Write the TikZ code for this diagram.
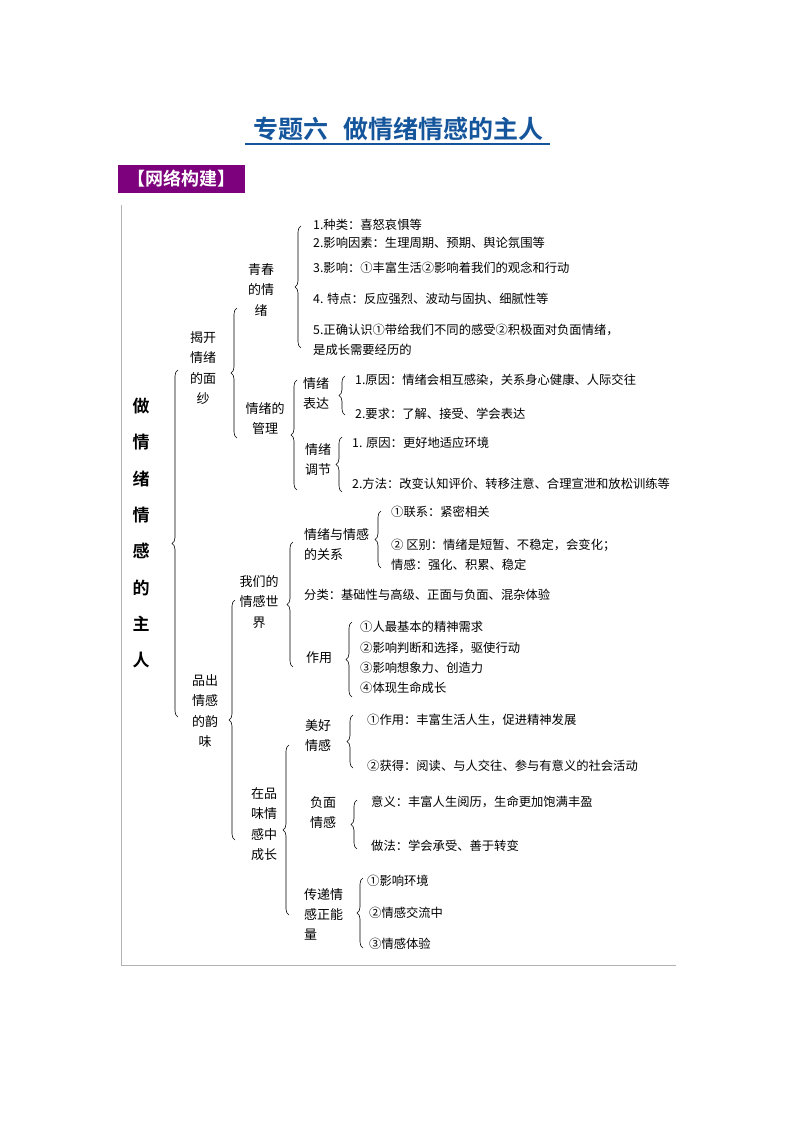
\documentclass[tikz,border=0pt]{standalone}
\usepackage{fontspec}
\setmainfont{Noto Sans CJK SC}
\newfontfamily\cjkb{Noto Sans CJK SC Bold}
\usetikzlibrary{decorations.pathreplacing}
\definecolor{titleblue}{RGB}{20,85,155}
\definecolor{hdrpurple}{RGB}{125,0,125}
\newcommand\brc[3]{\draw[brc] (#1,#3) -- (#1,#2);}
\begin{document}
\begin{tikzpicture}[x=1pt,y=-1pt,
  brc/.style={decorate,decoration={brace,amplitude=6pt},line width=0.6pt},
  item/.style={anchor=west,inner sep=0pt,font=\fontsize{12.3}{20}\selectfont},
  lab/.style={inner sep=0pt,align=center,font=\fontsize{13}{20.5}\selectfont},
  labl/.style={inner sep=0pt,align=left,anchor=north west,font=\fontsize{13}{20}\selectfont}]
\useasboundingbox (0,0) rectangle (794,1123);
% title
\node[text=titleblue,font=\cjkb\fontsize{25}{28}\selectfont,inner sep=0pt] (title) at (398,129) {专题六\hspace{0.6em}做情绪情感的主人};
\draw[titleblue,line width=1.2pt] (245,144) -- (550,144);
\node[fill=hdrpurple,text=white,font=\cjkb\fontsize{18}{20}\selectfont,minimum width=127pt,minimum height=28pt,inner sep=0pt] (hdr) at (181.5,179) {【网络构建】};
% frame
\draw[gray!60,line width=1pt] (121,205) -- (121,965) -- (676,965);
% root
\node[inner sep=0pt,align=center,font=\cjkb\fontsize{17}{36.3}\selectfont,anchor=north] (root) at (141,398) {做\\情\\绪\\情\\感\\的\\主\\人};
\brc{178}{370}{717}
% level 1
\node[lab,anchor=north] (l1a) at (203,331) {揭开\\情绪\\的面\\纱};
\node[lab,anchor=north] (l1b) at (205,674) {品出\\情感\\的韵\\味};
\brc{237}{308}{438}
\brc{235}{600}{840}
% level 2 upper
\node[lab,anchor=north] (qc) at (261,263) {青春\\的情\\绪};
\node[lab,anchor=north] (gl) at (265,402) {情绪的\\管理};
\brc{301}{226}{348}
\node[item] (q1) at (313,225) {1.种类：喜怒哀惧等};
\node[item] (q2) at (313,243) {2.影响因素：生理周期、预期、舆论氛围等};
\node[item] (q3) at (313,268) {3.影响：①丰富生活②影响着我们的观念和行动};
\node[item] (q4) at (313,299) {4. 特点：反应强烈、波动与固执、细腻性等};
\node[item] (q5) at (313,330) {5.正确认识①带给我们不同的感受②积极面对负面情绪，};
\node[item] (q6) at (313,350) {是成长需要经历的};
\brc{297}{380}{490}
\node[lab,anchor=north] (bd) at (316,377) {情绪\\表达};
\brc{345}{376}{415}
\node[item] (b1) at (355,380) {1.原因：情绪会相互感染，关系身心健康、人际交往};
\node[item] (b2) at (355,414) {2.要求：了解、接受、学会表达};
\node[lab,anchor=north] (tj) at (318,443) {情绪\\调节};
\brc{342}{437}{492}
\node[item] (t1) at (352,443) {1. 原因：更好地适应环境};
\node[item] (t2) at (352,484) {2.方法：改变认知评价、转移注意、合理宣泄和放松训练等};
% level 2 lower
\node[lab,anchor=north] (wm) at (259,575) {我们的\\情感世\\界};
\brc{293}{542}{667}
\node[labl] (gx) at (304,528) {情绪与情感\\的关系};
\brc{381}{511}{568}
\node[item] (g1) at (391,512) {①联系：紧密相关};
\node[item] (g2) at (391,545) {② 区别：情绪是短暂、不稳定，会变化；};
\node[item] (g3) at (391,565) {情感：强化、积累、稳定};
\node[item] (fl) at (304,595) {分类：基础性与高级、正面与负面、混杂体验};
\node[item,font=\fontsize{13}{20}\selectfont] (zy) at (306,658) {作用};
\brc{352}{622}{697}
\node[item] (z1) at (360,627) {①人最基本的精神需求};
\node[item] (z2) at (360,648) {②影响判断和选择，驱使行动};
\node[item] (z3) at (360,668) {③影响想象力、创造力};
\node[item] (z4) at (360,688) {④体现生命成长};
\node[lab,anchor=north] (zp) at (264,787) {在品\\味情\\感中\\成长};
\brc{289}{745}{915}
\node[lab,anchor=north] (mh) at (318,719) {美好\\情感};
\brc{353}{715}{768}
\node[item] (m1) at (367,720) {①作用：丰富生活人生，促进精神发展};
\node[item] (m2) at (367,766) {②获得：阅读、与人交往、参与有意义的社会活动};
\node[lab,anchor=north] (fm) at (323,796) {负面\\情感};
\brc{357}{800}{849}
\node[item] (f1) at (371,802) {意义：丰富人生阅历，生命更加饱满丰盈};
\node[item] (f2) at (371,846) {做法：学会承受、善于转变};
\node[labl] (cd) at (304,888) {传递情\\感正能\\量};
\brc{363}{878}{948}
\node[item] (c1) at (367,881) {①影响环境};
\node[item] (c2) at (369,913) {②情感交流中};
\node[item] (c3) at (369,944) {③情感体验};
\end{tikzpicture}
\end{document}
